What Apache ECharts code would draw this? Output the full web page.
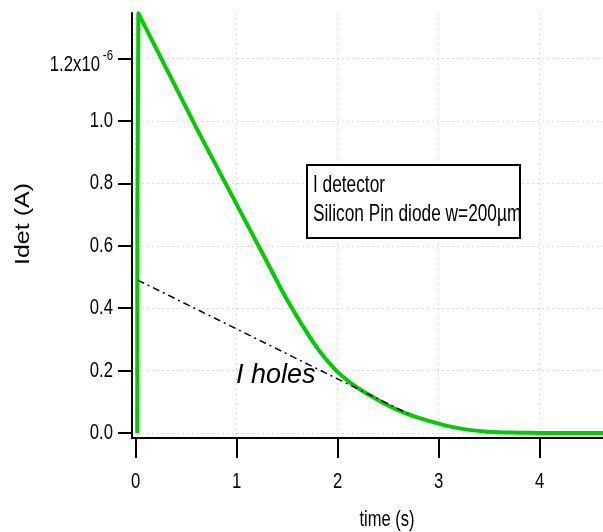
<!DOCTYPE html>
<html>
<head>
<meta charset="utf-8">
<script src="https://cdn.jsdelivr.net/npm/echarts@6/dist/echarts.min.js"></script>
<style>
  html, body { margin: 0; padding: 0; background: #fff; }
  #chart { width: 603px; height: 532px; }
</style>
</head>
<body>
<div id="chart"></div>
<script>
// Detector current (in units of 1e-6 A) versus time (s)
const timeS = [0.015, 0.026, 0.6, 1.08, 1.3, 1.45, 1.55, 1.65, 1.76, 1.85, 1.92, 2.0, 2.08, 2.15, 2.3, 2.49, 2.65, 2.82, 3.0, 3.15, 3.3, 3.48, 3.65, 3.8, 4.0, 4.65];
const idetMicroA = [0.0, 1.345, 0.978, 0.683, 0.548, 0.455, 0.398, 0.345, 0.290, 0.250, 0.223, 0.195, 0.173, 0.155, 0.124, 0.090, 0.066, 0.047, 0.030, 0.018, 0.010, 0.004, 0.002, 0.001, 0.0, 0.0];

// Hole contribution (straight dash-dot guide)
const holesTime = [0.02, 2.72];
const holesCurrent = [0.49, 0.058];

const xTicks = [0, 1, 2, 3, 4];
const yTicks = [0.0, 0.2, 0.4, 0.6, 0.8, 1.0, 1.2];
const xTickLabels = ['0', '1', '2', '3', '4'];
const yTickLabels = ['0.0', '0.2', '0.4', '0.6', '0.8', '1.0', '1.2x10'];
const yExponent = '-6';

const legendLines = ['I detector', 'Silicon Pin diode w=200\u00b5m'];
const annotation = 'I holes';
const xTitle = 'time (s)';
const yTitle = 'Idet (A)';

const sans = "'Liberation Sans', Arial, sans-serif";
const narrowScale = 0.76;

const chart = echarts.init(document.getElementById('chart'), null, { renderer: 'canvas' });

const pair = (xs, ys) => xs.map((x, i) => [x, ys[i]]);

const gridLine = { show: true, lineStyle: { color: '#dcdcdc', type: [2, 3], width: 1 } };

chart.setOption({
  animation: false,
  backgroundColor: '#ffffff',
  grid: { left: 132, right: 0, top: 13, bottom: 94, containLabel: false },
  xAxis: {
    type: 'value',
    min: -0.037,
    max: 4.627,
    axisLine: { show: true, onZero: false, lineStyle: { color: '#000', width: 2 } },
    axisTick: { show: true, customValues: xTicks, length: 20, lineStyle: { color: '#000', width: 2 } },
    axisLabel: { show: false, customValues: xTicks },
    splitLine: gridLine
  },
  yAxis: {
    type: 'value',
    min: -0.016,
    max: 1.346,
    axisLine: { show: true, onZero: false, lineStyle: { color: '#000', width: 2 } },
    axisTick: { show: true, customValues: yTicks, length: 14, lineStyle: { color: '#000', width: 2 } },
    axisLabel: { show: false, customValues: yTicks },
    splitLine: gridLine
  },
  series: [
    {
      type: 'line',
      data: pair(holesTime, holesCurrent),
      showSymbol: false,
      lineStyle: { color: '#000', width: 1.5, type: [7, 4, 2, 4] },
      z: 3
    },
    {
      type: 'line',
      data: pair(timeS, idetMicroA),
      showSymbol: false,
      smooth: 0.15,
      lineStyle: { color: '#00cc00', width: 4, join: 'round' },
      z: 2
    }
  ]
});

// Condensed tick labels, placed at the axis positions of their tick values
const labelFont = '22px ' + sans;
const tickTexts = [];
yTicks.forEach((v, i) => {
  const py = chart.convertToPixel({ gridIndex: 0 }, [0, v])[1];
  const isTop = i === yTicks.length - 1;
  tickTexts.push({
    type: 'text', x: isTop ? 100 : 113, y: isTop ? py + 6 : py, scaleX: narrowScale,
    style: { text: yTickLabels[i], font: labelFont, fill: '#000', align: 'right', verticalAlign: 'middle' }
  });
  if (isTop) {
    tickTexts.push({
      type: 'text', x: 113, y: py - 3, scaleX: narrowScale,
      style: { text: yExponent, font: '15px ' + sans, fill: '#000', align: 'right', verticalAlign: 'middle' }
    });
  }
});
xTicks.forEach((v, i) => {
  const px = chart.convertToPixel({ gridIndex: 0 }, [v, 0])[0];
  tickTexts.push({
    type: 'text', x: px, y: 482, scaleX: narrowScale,
    style: { text: xTickLabels[i], font: labelFont, fill: '#000', align: 'center', verticalAlign: 'middle' }
  });
});

chart.setOption({
  graphic: tickTexts.concat([
    {
      type: 'text',
      x: 23, y: 224, rotation: Math.PI / 2, scaleY: 0.8,
      style: { text: yTitle, font: '25px ' + sans, fill: '#000', align: 'center', verticalAlign: 'middle' }
    },
    {
      type: 'text',
      x: 387, y: 520, scaleX: 0.75,
      style: { text: xTitle, font: '22px ' + sans, fill: '#000', align: 'center', verticalAlign: 'middle' }
    },
    {
      type: 'rect',
      shape: { x: 307, y: 165, width: 213, height: 73 },
      style: { fill: '#fff', stroke: '#000', lineWidth: 2 }
    },
    {
      type: 'text',
      x: 313, y: 185, scaleX: 0.72,
      style: { text: legendLines[0], font: '24px ' + sans, fill: '#000', align: 'left', verticalAlign: 'middle' }
    },
    {
      type: 'text',
      x: 313, y: 214, scaleX: 0.72,
      style: { text: legendLines[1], font: '24px ' + sans, fill: '#000', align: 'left', verticalAlign: 'middle' }
    },
    {
      type: 'text',
      x: 236, y: 375,
      style: { text: annotation, font: 'italic 27px ' + sans, fill: '#000', align: 'left', verticalAlign: 'middle' }
    }
  ])
});
</script>
</body>
</html>
